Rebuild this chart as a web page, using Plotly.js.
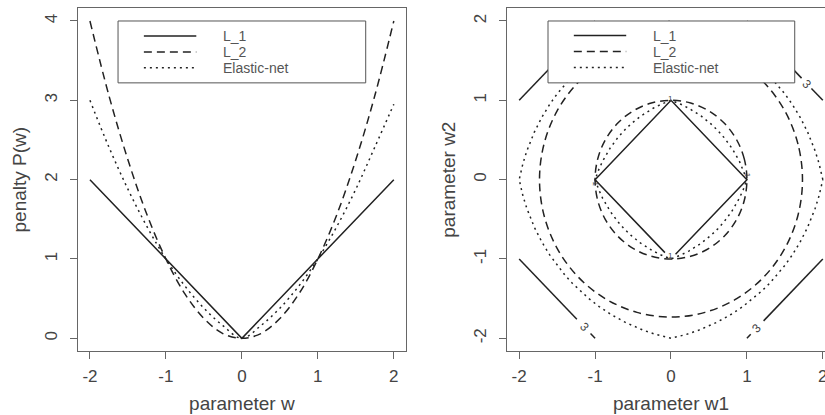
<!DOCTYPE html>
<html>
<head>
<meta charset="utf-8">
<script src="https://cdn.plot.ly/plotly-3.0.1.min.js"></script>
<style>
html,body{margin:0;padding:0;background:#fff;overflow:hidden;width:825px;height:415px;}
#chart{width:840px;height:415px;}
</style>
</head>
<body>
<div id="chart"></div>
<script>
// ---------- Left panel: penalty as a function of w ----------
const w = [-2, -1.75, -1.5, -1.25, -1, -0.75, -0.5, -0.25, 0, 0.25, 0.5, 0.75, 1, 1.25, 1.5, 1.75, 2];
const penaltyL1 = [2, 1.75, 1.5, 1.25, 1, 0.75, 0.5, 0.25, 0, 0.25, 0.5, 0.75, 1, 1.25, 1.5, 1.75, 2];
const penaltyL2 = [4, 3.06, 2.25, 1.56, 1, 0.56, 0.25, 0.06, 0, 0.06, 0.25, 0.56, 1, 1.56, 2.25, 3.06, 4];
const penaltyEN = [3, 2.41, 1.88, 1.41, 1, 0.66, 0.38, 0.16, 0, 0.16, 0.38, 0.66, 1, 1.41, 1.88, 2.41, 2.95];

// ---------- Right panel: contour lines (levels 1 and 3) ----------
// L_1 level 1 (diamond, small gap at the label near the bottom vertex)
const l1Level1W1 = [0.06, 1, 0, -1, -0.08];
const l1Level1W2 = [-0.94, 0, 1, 0, -0.92];
// L_1 level 3 (four corner segments, gaps where the "3" labels sit)
const l1Level3W1 = [-2, -1, null, 1, 1.72, null, 1.85, 2, null, -2, -1.24, null, -1.06, -1, null, 2, 1.22, null, 1.05, 1];
const l1Level3W2 = [1, 2, null, 2, 1.28, null, 1.15, 1, null, -1, -1.76, null, -1.94, -2, null, -1, -1.78, null, -1.95, -2];
// L_2 level 1 (circle)
const l2Level1W1 = [1, 0.966, 0.866, 0.707, 0.5, 0.259, 0, -0.259, -0.5, -0.707, -0.866, -0.966, -1, -0.966, -0.866, -0.707, -0.5, -0.259, 0, 0.259, 0.5, 0.707, 0.866, 0.966, 1];
const l2Level1W2 = [0, 0.259, 0.5, 0.707, 0.866, 0.966, 1, 0.966, 0.866, 0.707, 0.5, 0.259, 0, -0.259, -0.5, -0.707, -0.866, -0.966, -1, -0.966, -0.866, -0.707, -0.5, -0.259, 0];
// L_2 level 3 (circle)
const l2Level3W1 = [1.732, 1.673, 1.5, 1.225, 0.866, 0.448, 0, -0.448, -0.866, -1.225, -1.5, -1.673, -1.732, -1.673, -1.5, -1.225, -0.866, -0.448, 0, 0.448, 0.866, 1.225, 1.5, 1.673, 1.732];
const l2Level3W2 = [0, 0.448, 0.866, 1.225, 1.5, 1.673, 1.732, 1.673, 1.5, 1.225, 0.866, 0.448, 0, -0.448, -0.866, -1.225, -1.5, -1.673, -1.732, -1.673, -1.5, -1.225, -0.866, -0.448, 0];
// Elastic-net level 1
const enLevel1W1 = [1, 0.95, 0.9, 0.8, 0.7, 0.618, 0.53, 0.4, 0.235, 0.13, 0,
  -0.13, -0.235, -0.4, -0.53, -0.618, -0.7, -0.8, -0.9, -0.95, -1,
  -0.95, -0.9, -0.8, -0.7, -0.618, -0.53, -0.4, -0.235, -0.13, 0,
  0.13, 0.235, 0.4, 0.53, 0.618, 0.7, 0.8, 0.9, 0.95, 1];
const enLevel1W2 = [0, 0.13, 0.235, 0.4, 0.53, 0.618, 0.7, 0.8, 0.9, 0.95, 1,
  0.95, 0.9, 0.8, 0.7, 0.618, 0.53, 0.4, 0.235, 0.13, 0,
  -0.13, -0.235, -0.4, -0.53, -0.618, -0.7, -0.8, -0.9, -0.95, -1,
  -0.95, -0.9, -0.8, -0.7, -0.618, -0.53, -0.4, -0.235, -0.13, 0];
// Elastic-net level 3
const enLevel3W1 = [2, 1.95, 1.9, 1.8, 1.7, 1.6, 1.5, 1.4, 1.303, 1.2, 1.081, 0.946, 0.788, 0.6, 0.36, 0.205, 0,
  -0.205, -0.36, -0.6, -0.788, -0.946, -1.081, -1.2, -1.303, -1.4, -1.5, -1.6, -1.7, -1.8, -1.9, -1.95, -2,
  -1.95, -1.9, -1.8, -1.7, -1.6, -1.5, -1.4, -1.303, -1.2, -1.081, -0.946, -0.788, -0.6, -0.36, -0.205, 0,
  0.205, 0.36, 0.6, 0.788, 0.946, 1.081, 1.2, 1.303, 1.4, 1.5, 1.6, 1.7, 1.8, 1.9, 1.95, 2];
const enLevel3W2 = [0, 0.205, 0.36, 0.6, 0.788, 0.946, 1.081, 1.2, 1.303, 1.4, 1.5, 1.6, 1.7, 1.8, 1.9, 1.95, 2,
  1.95, 1.9, 1.8, 1.7, 1.6, 1.5, 1.4, 1.303, 1.2, 1.081, 0.946, 0.788, 0.6, 0.36, 0.205, 0,
  -0.205, -0.36, -0.6, -0.788, -0.946, -1.081, -1.2, -1.303, -1.4, -1.5, -1.6, -1.7, -1.8, -1.9, -1.95, -2,
  -1.95, -1.9, -1.8, -1.7, -1.6, -1.5, -1.4, -1.303, -1.2, -1.081, -0.946, -0.788, -0.6, -0.36, -0.205, 0];

// contour labels
const contourLabelText = ["3", "3", "3", "1", "1", "1", "1"];
const contourLabelW1 = [1.785, -1.14, 1.13, -0.01, 0, 1.0, -1.0];
const contourLabelW2 = [1.2, -1.86, -1.87, -0.95, 1.02, 0.05, -0.05];
const contourLabelAngle = [46, 46, -46, 0, 0, 90, 90];
const contourLabelSize = [12, 12, 12, 8, 8, 8, 8];

// legend and tick labels
const legendNames = ["L_1", "L_2", "Elastic-net"];
const tickVals = [-2, -1, 0, 1, 2];
const tickText = ["-2", "-1", "0", "1", "2"];
const tickValsP = [0, 1, 2, 3, 4];
const tickTextP = ["0", "1", "2", "3", "4"];

const INK = "#222";
const TXT = "#444";
const FONT = "Liberation Sans, Arial, sans-serif";
const dashes = ["solid", "8px,5px", "2px,4px"];

function line(x, y, dash, xa, ya, shape) {
  return {x: x, y: y, type: "scatter", mode: "lines", xaxis: xa, yaxis: ya,
    line: {color: INK, width: 1.5, dash: dash, shape: shape || "linear"},
    showlegend: false, hoverinfo: "skip", connectgaps: false};
}

const traces = [
  line(w, penaltyL1, dashes[0], "x", "y"),
  line(w, penaltyL2, dashes[1], "x", "y", "spline"),
  line(w, penaltyEN, dashes[2], "x", "y", "spline"),
  line(l1Level1W1, l1Level1W2, dashes[0], "x2", "y2"),
  line(l1Level3W1, l1Level3W2, dashes[0], "x2", "y2"),
  line(l2Level1W1, l2Level1W2, dashes[1], "x2", "y2", "spline"),
  line(l2Level3W1, l2Level3W2, dashes[1], "x2", "y2", "spline"),
  line(enLevel1W1, enLevel1W2, dashes[2], "x2", "y2"),
  line(enLevel3W1, enLevel3W2, dashes[2], "x2", "y2")
];

// legend boxes (in data coordinates of each panel)
const shapes = [];
const annotations = [];
function addLegend(xr, yr, box, sx0, sx1, tx, rows) {
  shapes.push({type: "rect", xref: xr, yref: yr, x0: box[0], x1: box[1], y0: box[2], y1: box[3],
    line: {color: "#555", width: 1}, fillcolor: "#fff", layer: "above"});
  legendNames.forEach((name, i) => {
    shapes.push({type: "line", xref: xr, yref: yr, x0: sx0, x1: sx1, y0: rows[i], y1: rows[i],
      line: {color: INK, width: 1.5, dash: dashes[i]}, layer: "above"});
    annotations.push({xref: xr, yref: yr, x: tx, y: rows[i], text: name, showarrow: false,
      xanchor: "left", yanchor: "middle", font: {family: FONT, size: 14, color: "#555"}});
  });
}
addLegend("x", "y", [-1.63, 1.63, 3.22, 4.0], -1.29, -0.6, -0.27, [3.81, 3.61, 3.41]);
addLegend("x2", "y2", [-1.62, 1.63, 1.22, 2.0], -1.28, -0.59, -0.26, [1.817, 1.615, 1.413]);

contourLabelText.forEach((t, i) => {
  annotations.push({xref: "x2", yref: "y2", x: contourLabelW1[i], y: contourLabelW2[i], text: t,
    showarrow: false, textangle: contourLabelAngle[i], xanchor: "center", yanchor: "middle",
    font: {family: FONT, size: contourLabelSize[i], color: TXT}});
});

function axis(extra) {
  return Object.assign({
    showgrid: false, zeroline: false, showline: true, mirror: true, linecolor: "#666", linewidth: 1,
    ticks: "outside", ticklen: 7, tickcolor: "#666", tickwidth: 1, tickmode: "array",
    tickfont: {family: FONT, size: 17, color: TXT}, fixedrange: true
  }, extra);
}

const layout = {
  width: 840, height: 415,
  margin: {l: 0, r: 0, t: 0, b: 0},
  paper_bgcolor: "#fff", plot_bgcolor: "#fff",
  font: {family: FONT, color: TXT},
  showlegend: false,
  xaxis: axis({domain: [0.0926, 0.4833], range: [-2.16, 2.16], tickvals: tickVals, ticktext: tickText, anchor: "y",
    ticklabelstandoff: 3,
    title: {text: "parameter w", font: {family: FONT, size: 19, color: TXT}, standoff: 11}}),
  yaxis: axis({domain: [0.1542, 0.98], range: [-0.16, 4.16], tickvals: tickValsP, ticktext: tickTextP, tickangle: -90, anchor: "x",
    ticklabelstandoff: 6,
    title: {text: "penalty P(w)", font: {family: FONT, size: 19, color: TXT}, standoff: 10}}),
  xaxis2: axis({domain: [0.6036, 0.994], range: [-2.16, 2.16], tickvals: tickVals, ticktext: tickText, anchor: "y2",
    ticklabelstandoff: 3,
    title: {text: "parameter w1", font: {family: FONT, size: 19, color: TXT}, standoff: 11}}),
  yaxis2: axis({domain: [0.1542, 0.98], range: [-2.16, 2.16], tickvals: tickVals, ticktext: tickText, tickangle: -90, anchor: "x2",
    ticklabelstandoff: 6,
    title: {text: "parameter w2", font: {family: FONT, size: 19, color: TXT}, standoff: 10}}),
  shapes: shapes,
  annotations: annotations
};

Plotly.newPlot("chart", traces, layout, {staticPlot: true, displayModeBar: false});
</script>
</body>
</html>
